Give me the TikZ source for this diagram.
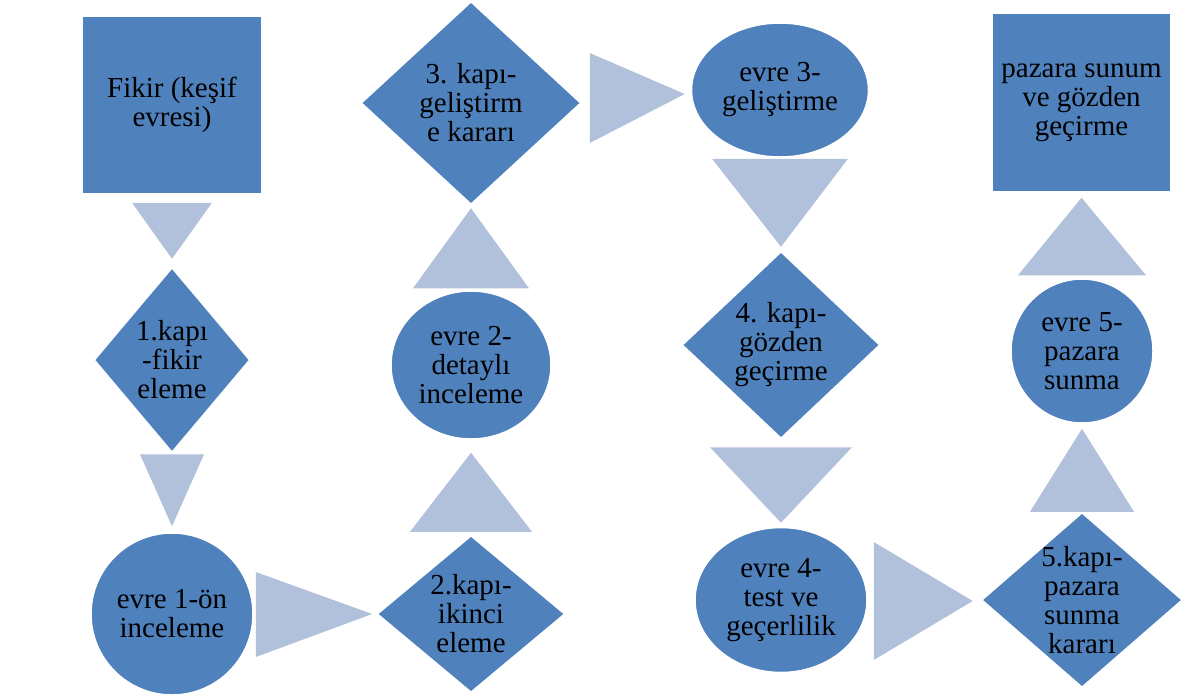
\documentclass[tikz,border=0pt]{standalone}
\usepackage{fontspec}
\setmainfont{Liberation Serif}
\usepackage{tikz}
\usetikzlibrary{calc, shapes.geometric}
\usepackage{xcolor}
\definecolor{shapeblue}{HTML}{4F81BD}
\definecolor{flowblue}{HTML}{B2C1DB}

\begin{document}
\begin{tikzpicture}[
      x=1pt, y=-1pt,
      phase/.style={ellipse, draw=white, fill=shapeblue, line width=1.5pt, inner sep=0pt},
      gate/.style={diamond, draw=white, fill=shapeblue, line width=1.5pt, inner sep=0pt},
      card/.style={rectangle, draw=white, fill=shapeblue, line width=1.5pt, inner sep=0pt},
      txt/.style={align=center, inner sep=0pt, text=black, font=\fontsize{29}{29}\selectfont},
      flow/.style={fill=flowblue},
    ]
    \useasboundingbox (0,0) rectangle (1191,697);

    % shapes
    \node[card, minimum width=180, minimum height=178] (fikir) at (172,105) {};
    \node[gate, minimum width=156, minimum height=185] (kapi1) at (172,360) {};
    \node[phase, minimum width=162, minimum height=162] (evre1) at (172,614) {};
    \node[gate, minimum width=188, minimum height=157] (kapi2) at (471,614) {};
    \node[phase, minimum width=160, minimum height=148] (evre2) at (471,365) {};
    \node[gate, minimum width=220, minimum height=203] (kapi3) at (471,103) {};
    \node[phase, minimum width=177, minimum height=134] (evre3) at (780,90) {};
    \node[gate, minimum width=198, minimum height=187] (kapi4) at (781,345) {};
    \node[phase, minimum width=172, minimum height=145] (evre4) at (781,600) {};
    \node[gate, minimum width=201, minimum height=175] (kapi5) at (1082,600) {};
    \node[phase, minimum width=142, minimum height=144] (evre5) at (1082,351) {};
    \node[card, minimum width=179, minimum height=179] (sunum) at (1081.5,102.5) {};

    % texts
    \node[txt] (fikir-t) at (fikir) {Fikir (keşif\\evresi)};
    \node[txt] (kapi1-t) at (kapi1) {1.kapı\\-fikir\\eleme};
    \node[txt] (evre1-t) at (evre1) {evre 1-ön\\inceleme};
    \node[txt] (kapi2-t) at (kapi2) {2.kapı-\\ikinci\\eleme};
    \node[txt] (evre2-t) at (evre2) {evre 2-\\detaylı\\inceleme};
    \node[txt] (kapi3-t) at (kapi3) {3. kapı-\\geliştirm\\e kararı};
    \node[txt] (evre3-t) at (evre3) {evre 3-\\geliştirme};
    \node[txt] (kapi4-t) at (kapi4) {4. kapı-\\gözden\\geçirme};
    \node[txt] (evre4-t) at (evre4) {evre 4-\\test ve\\geçerlilik};
    \node[txt] (kapi5-t) at (kapi5) {5.kapı-\\pazara\\sunma\\kararı};
    \node[txt] (evre5-t) at (evre5) {evre 5-\\pazara\\sunma};
    \node[txt] (sunum-t) at (sunum) {pazara sunum\\ve gözden\\geçirme};

    % flow triangles
    \fill[flow] ($(fikir.south)+(-40,8)$) -- ($(fikir.south)+(40,8)$) -- ($(kapi1.north)+(0,-8)$) -- cycle;
    \fill[flow] ($(kapi1.south)+(-32,1)$) -- ($(kapi1.south)+(32,1)$) -- ($(evre1.north)+(0,-6)$) -- cycle;
    \fill[flow] ($(evre1.east)+(2,-42)$) -- ($(evre1.east)+(2,43)$) -- ($(kapi2.west)+(-4,0)$) -- cycle;
    \fill[flow] ($(kapi2.north)+(-61,-3)$) -- ($(kapi2.north)+(61,-3)$) -- ($(evre2.south)+(0,13)$) -- cycle;
    \fill[flow] ($(evre2.north)+(-58,-2)$) -- ($(evre2.north)+(58,-2)$) -- ($(kapi3.south)+(0,3)$) -- cycle;
    \fill[flow] ($(kapi3.east)+(8,-50)$) -- ($(kapi3.east)+(8,40)$) -- ($(evre3.west)+(-6,4)$) -- cycle;
    \fill[flow] ($(evre3.south)+(-68,1)$) -- ($(evre3.south)+(68,1)$) -- ($(kapi4.north)+(0,-4)$) -- cycle;
    \fill[flow] ($(kapi4.south)+(-71,8)$) -- ($(kapi4.south)+(71,8)$) -- ($(evre4.north)+(0,-4)$) -- cycle;
    \fill[flow] ($(evre4.east)+(6,-58)$) -- ($(evre4.east)+(6,60)$) -- ($(kapi5.west)+(-8,1)$) -- cycle;
    \fill[flow] ($(kapi5.north)+(-52,0)$) -- ($(kapi5.north)+(52,0)$) -- ($(evre5.south)+(0,5)$) -- cycle;
    \fill[flow] ($(evre5.north)+(-64,-3)$) -- ($(evre5.north)+(64,-3)$) -- ($(sunum.south)+(0,5)$) -- cycle;
  \end{tikzpicture}
\end{document}
